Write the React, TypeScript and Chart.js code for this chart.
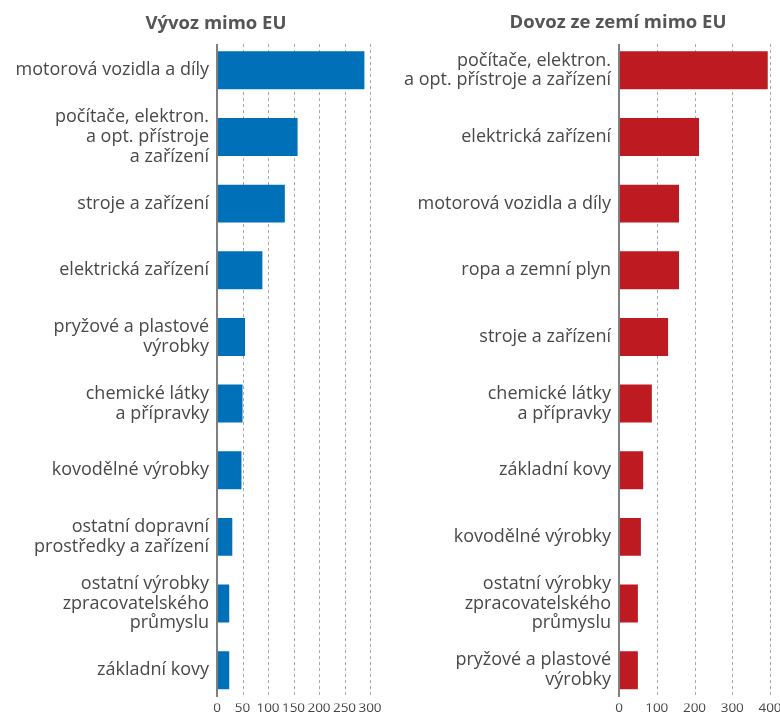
import React, { useEffect, useRef } from "react";
import { Chart, registerables } from "chart.js";

Chart.register(...registerables);

const exportTitle = "Vývoz mimo EU";
const exportCategories: (string | string[])[] = [
  "motorová vozidla a díly",
  ["počítače, elektron.", "a opt. přístroje", "a zařízení"],
  "stroje a zařízení",
  "elektrická zařízení",
  ["pryžové a plastové", "výrobky"],
  ["chemické látky", "a přípravky"],
  "kovodělné výrobky",
  ["ostatní dopravní", "prostředky a zařízení"],
  ["ostatní výrobky", "zpracovatelského", "průmyslu"],
  "základní kovy",
];
const exportValues = [289, 158, 133, 89, 55, 50, 48, 30, 24, 24];
const exportMax = 300;
const exportStep = 50;

const importTitle = "Dovoz ze zemí mimo EU";
const importCategories: (string | string[])[] = [
  ["počítače, elektron.", "a opt. přístroje a zařízení"],
  "elektrická zařízení",
  "motorová vozidla a díly",
  "ropa a zemní plyn",
  "stroje a zařízení",
  ["chemické látky", "a přípravky"],
  "základní kovy",
  "kovodělné výrobky",
  ["ostatní výrobky", "zpracovatelského", "průmyslu"],
  ["pryžové a plastové", "výrobky"],
];
const importValues = [394, 212, 159, 159, 130, 87, 64, 58, 50, 50];
const importMax = 400;
const importStep = 100;

const FONT = "'Open Sans', 'Noto Sans', sans-serif";

const shortGridPlugin = {
  id: "shortGrid",
  beforeDatasetsDraw(chart: any) {
    const { ctx, chartArea, scales } = chart;
    const x = scales.x;
    const top = chartArea.top + 7;
    const bottom = chartArea.bottom - 6.5;
    ctx.save();
    ctx.strokeStyle = "#a8a8a8";
    ctx.lineWidth = 1;
    ctx.setLineDash([3, 3]);
    x.ticks.forEach((t: any) => {
      if (t.value === 0) return;
      const px = Math.round(x.getPixelForValue(t.value)) + 0.5;
      ctx.beginPath();
      ctx.moveTo(px, top);
      ctx.lineTo(px, bottom);
      ctx.stroke();
    });
    ctx.restore();
  },
  afterDatasetsDraw(chart: any) {
    const { ctx, chartArea } = chart;
    const top = chartArea.top + 7;
    const bottom = chartArea.bottom - 6.5;
    ctx.save();
    ctx.strokeStyle = "#7f7f7f";
    ctx.lineWidth = 2;
    ctx.beginPath();
    ctx.moveTo(chartArea.left, top);
    ctx.lineTo(chartArea.left, bottom);
    ctx.stroke();
    ctx.restore();
  },
};

type BarProps = {
  labels: (string | string[])[];
  values: number[];
  color: string;
  max: number;
  step: number;
  axisWidth: number;
  padRight: number;
};

function BarChart({ labels, values, color, max, step, axisWidth, padRight }: BarProps) {
  const ref = useRef<HTMLCanvasElement | null>(null);
  useEffect(() => {
    if (!ref.current) return;
    const chart = new Chart(ref.current, {
      type: "bar",
      data: {
        labels,
        datasets: [
          {
            data: values,
            backgroundColor: color,
            barPercentage: 0.57,
            categoryPercentage: 1,
          },
        ],
      },
      plugins: [shortGridPlugin],
      options: {
        indexAxis: "y",
        animation: false,
        responsive: true,
        maintainAspectRatio: false,
        layout: { padding: { top: 37, right: padRight, left: 0, bottom: 0 } },
        plugins: { legend: { display: false }, tooltip: { enabled: false }, title: { display: false } },
        scales: {
          x: {
            min: 0,
            max,
            grid: { display: false, drawTicks: false },
            border: { display: false },
            ticks: {
              stepSize: step,
              autoSkip: false,
              maxRotation: 0,
              padding: -3,
              color: "#444",
              font: { family: FONT, size: 13.5 },
            },
            afterFit: (scale: any) => {
              scale.height = 9.5;
            },
          },
          y: {
            grid: { display: false, drawTicks: false },
            border: { display: false },
            ticks: {
              padding: 8,
              color: "#484848",
              autoSkip: false,
              font: { family: FONT, size: 18, lineHeight: 1.1 },
            },
            afterFit: (scale: any) => {
              scale.width = axisWidth;
              scale.paddingTop = 0;
              scale.paddingBottom = 0;
            },
          },
        },
      },
    });
    return () => chart.destroy();
  }, []);
  return <canvas ref={ref} />;
}

const titleStyle: React.CSSProperties = {
  position: "absolute",
  top: 8,
  width: 300,
  textAlign: "center",
  fontFamily: FONT,
  fontWeight: 700,
  fontSize: 18.5,
  color: "#555",
  lineHeight: "28px",
};

export default function App() {
  return (
    <div style={{ position: "absolute", left: 0, top: 0, width: 780, height: 713, background: "#fff" }}>
      <div style={{ position: "absolute", left: 0, top: 0, width: 382, height: 713 }}>
        <BarChart
          labels={exportCategories}
          values={exportValues}
          color="#0070b8"
          max={exportMax}
          step={exportStep}
          axisWidth={217}
          padRight={12}
        />
      </div>
      <div style={{ position: "absolute", left: 390, top: 0, width: 390, height: 713 }}>
        <BarChart
          labels={importCategories}
          values={importValues}
          color="#be1a22"
          max={importMax}
          step={importStep}
          axisWidth={229}
          padRight={10}
        />
      </div>
      <div style={{ ...titleStyle, left: 216 - 150 }}>{exportTitle}</div>
      <div style={{ ...titleStyle, left: 618 - 150, top: 7 }}>{importTitle}</div>
    </div>
  );
}
